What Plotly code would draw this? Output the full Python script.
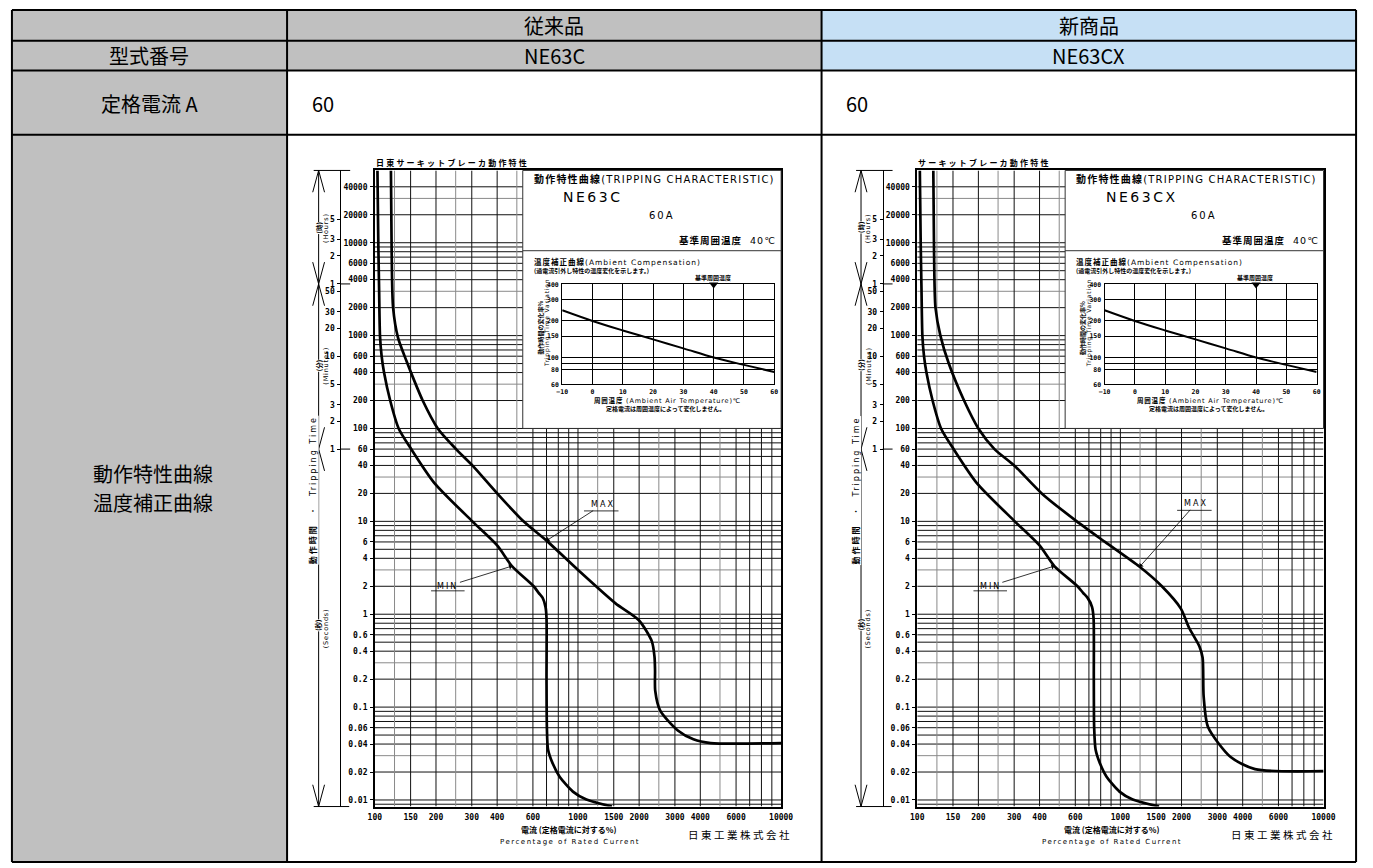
import math
import plotly.graph_objects as go

W, H = 1373, 868

# ---------------- data ----------------
# Tripping characteristic: % of rated current vs. tripping time (s)
ne63c_min_pct = [103, 104, 105, 106, 108, 111, 119, 131, 151, 196, 302, 400, 473, 605, 640, 670, 692, 700, 700, 703, 712, 752, 812, 944, 1100, 1470]
ne63c_min_sec = [60000, 10000, 3000, 1000, 600, 400, 200, 100, 60, 26, 10, 5.5, 3.3, 2.0, 1.7, 1.5, 1.2, 0.9, 0.2, 0.06, 0.035, 0.0245, 0.0178, 0.0123, 0.0101, 0.0085]
ne63c_max_pct = [120, 121, 123, 130, 143, 154, 172, 204, 251, 302, 400, 539, 700, 1000, 1530, 1990, 2310, 2380, 2395, 2400, 2540, 3100, 3700, 4500, 10000]
ne63c_max_sec = [60000, 8000, 2000, 950, 535, 355, 200, 100, 60, 40, 20, 10, 6.2, 3.0, 1.31, 0.866, 0.51, 0.35, 0.25, 0.15, 0.0915, 0.056, 0.045, 0.041, 0.041]

ne63cx_min_pct = [103, 104, 105, 106, 108, 111, 119, 131, 151, 196, 302, 400, 473, 615, 655, 690, 725, 738, 740, 743, 755, 795, 855, 990, 1150, 1550]
ne63cx_min_sec = [60000, 10000, 3000, 1000, 600, 400, 200, 100, 60, 26, 10, 5.5, 3.3, 2.0, 1.7, 1.5, 1.2, 0.9, 0.2, 0.06, 0.035, 0.0245, 0.0178, 0.0123, 0.0101, 0.0085]
ne63cx_max_pct = [120, 121, 123, 130, 143, 170, 200, 240, 300, 410, 610, 840, 1244, 1600, 1985, 2175, 2450, 2540, 2570, 2700, 3490, 4600, 10000]
ne63cx_max_sec = [60000, 8000, 2000, 1000, 500, 200, 100, 60, 40, 20, 10, 6, 3.24, 2.0, 1.15, 0.72, 0.45, 0.34, 0.13, 0.061, 0.029, 0.0215, 0.0205]

# Ambient compensation: tripping-time variation (%) vs. ambient temperature (°C)
amb_temp = [-10, 0, 10, 20, 30, 40, 50, 60]
amb_ratio = [245, 200, 167, 141, 119, 100, 87, 76]
ref_temp = 40

# Axis ticks and rulings
cur_ticks = [100, 150, 200, 300, 400, 600, 1000, 1500, 2000, 3000, 4000, 6000, 10000]
cur_grid_dark = [700, 800, 900, 7000, 8000, 9000]
cur_grid_light = [125, 250, 500, 1250, 2500, 5000]
sec_ticks = [0.01, 0.02, 0.04, 0.06, 0.1, 0.2, 0.4, 0.6, 1, 2, 4, 6, 10, 20, 40, 60,
             100, 200, 400, 600, 1000, 2000, 4000, 6000, 10000, 20000, 40000]
sec_labels = ["0.01", "0.02", "0.04", "0.06", "0.1", "0.2", "0.4", "0.6", "1", "2", "4", "6",
              "10", "20", "40", "60", "100", "200", "400", "600", "1000", "2000", "4000",
              "6000", "10000", "20000", "40000"]
sec_grid_dark = [m * 10 ** e for e in range(-3, 5) for m in (5, 7, 8, 9)
                 if 0.0085 < m * 10 ** e < 50000]
sec_grid_light = [3 * 10 ** e for e in range(-2, 5)]
hm_ticks = [18000, 10800, 7200, 3600, 3000, 1800, 1200, 600, 300, 180, 120, 60]
hm_labels = ["5", "3", "2", "1", "50", "30", "20", "10", "5", "3", "2", "1"]
temp_ticks = [-10, 0, 10, 20, 30, 40, 50, 60]
ratio_ticks = [60, 80, 100, 150, 200, 300, 400]
ratio_grid = [90]

L = math.log10
T_MIN, T_MAX = 0.0085, 60000
YMIN, YMAX = L(T_MIN), L(T_MAX)
RMIN, RMAX = L(60), L(400)

JP = "Noto Sans CJK JP"
TABLE_FONT = "Liberation Sans Narrow, Noto Sans CJK JP"
MONO = "DejaVu Sans Mono"
SANS = "DejaVu Sans, Noto Sans CJK JP"
GRAY_CELL = "#c0c0c0"
BLUE_CELL = "#c6e0f5"
DARK, LIGHT = "#111111", "#8a8a8a"


def fx(x):
    return x / W


def fy(y):
    return 1 - y / H


def sp(s, ls):
    return f'<span style="letter-spacing:{ls}px">{s}</span>'


fig = go.Figure()
shapes, annotations = [], []
layout = {}


def text(x, y, s, size=8, family=SANS, anchor="center", angle=0, bg=None):
    annotations.append(dict(x=fx(x), y=fy(y), xref="paper", yref="paper", text=s,
                            showarrow=False, xanchor=anchor, yanchor="middle",
                            textangle=angle, bgcolor=bg, borderpad=0,
                            font=dict(family=family, size=size, color="black")))


def pline(x0, y0, x1, y1, w=1, color="black", layer="above"):
    shapes.append(dict(type="line", xref="paper", yref="paper", x0=fx(x0), y0=fy(y0),
                       x1=fx(x1), y1=fy(y1), line=dict(color=color, width=w), layer=layer))


# ---------------- table ----------------
cols = [5, 284, 826, 1368]
rows = [6, 37, 67, 132, 866]
fills = [[GRAY_CELL, GRAY_CELL, BLUE_CELL],
         [GRAY_CELL, GRAY_CELL, BLUE_CELL],
         [GRAY_CELL, "white", "white"],
         [GRAY_CELL, "white", "white"]]
for r in range(4):
    for c in range(3):
        shapes.append(dict(type="rect", xref="paper", yref="paper", layer="below",
                           x0=fx(cols[c]), x1=fx(cols[c + 1]), y0=fy(rows[r + 1]), y1=fy(rows[r]),
                           fillcolor=fills[r][c], line=dict(width=0)))
for yy in rows:
    pline(cols[0], yy, cols[-1], yy, 2)
for xx in cols:
    pline(xx, rows[0], xx, rows[-1], 2)

text(555, 22, "従来品", 20, TABLE_FONT)
text(1097, 22, "新商品", 20, TABLE_FONT)
text(144, 52, "型式番号", 20, TABLE_FONT)
text(555, 52, "NE63C", 20, TABLE_FONT)
text(1097, 52, "NE63CX", 20, TABLE_FONT)
text(144, 100, "定格電流 A", 20, TABLE_FONT)
text(308, 100, "60", 20, TABLE_FONT, anchor="left")
text(850, 100, "60", 20, TABLE_FONT, anchor="left")
text(148, 474, "動作特性曲線", 20, TABLE_FONT)
text(148, 503, "温度補正曲線", 20, TABLE_FONT)


# ---------------- charts ----------------
def chart(a, dx, title, model, min_pct, min_sec, max_pct, max_sec, max_tip, min_tip, max_off):
    xm, ym, yhm, xi, yi = a, a, a + 1, a + 2, a + 2
    k = lambda p, i: p + ("" if i == 1 else str(i))
    X0, X1, Y0, Y1 = 373 + dx, 785 + dx, 168, 810
    PANEL_X = 523 + dx

    def xpix(v):
        return X0 + (L(v) - 2) / 2 * (X1 - X0)

    def ypix(t):
        return Y0 + (YMAX - L(t)) / (YMAX - YMIN) * (Y1 - Y0)

    xr, yr = k("x", xm), k("y", ym)
    tickfont = dict(family=MONO, size=8, color="black", weight="bold")
    layout[k("xaxis", xm)] = dict(
        type="log", range=[2, 4], domain=[fx(X0), fx(X1)], anchor=yr,
        tickvals=cur_ticks, ticktext=[str(v) for v in cur_ticks], ticks="", showgrid=False,
        showline=True, mirror=True, linecolor="black", linewidth=1.5,
        tickfont=tickfont, ticklabelstandoff=2, zeroline=False, fixedrange=True)
    layout[k("yaxis", ym)] = dict(
        type="log", range=[YMIN, YMAX], domain=[fy(Y1), fy(Y0)], anchor=xr,
        tickvals=sec_ticks, ticktext=sec_labels, ticks="outside", ticklen=3, tickcolor="black",
        showgrid=False, showline=True, mirror=True, linecolor="black", linewidth=1.5,
        tickfont=tickfont, ticklabelstandoff=1, zeroline=False, fixedrange=True)
    layout[k("yaxis", yhm)] = dict(
        type="log", range=[YMIN, YMAX], overlaying=yr, anchor="free",
        position=fx(338 + dx), side="left",
        tickvals=hm_ticks, ticktext=hm_labels, ticks="outside", ticklen=3, tickcolor="black",
        showgrid=False, showline=True, linecolor="black", linewidth=1,
        tickfont=tickfont, ticklabelstandoff=1, zeroline=False, fixedrange=True)

    # chart rulings (shape positions on log axes are plain data values);
    # the upper-right panel is kept clear of them
    v_panel = 10 ** (2 + (PANEL_X - X0) / (X1 - X0) * 2)
    for vals, col in ((sec_ticks + sec_grid_dark, DARK), (sec_grid_light, LIGHT)):
        for t in vals:
            x_end = v_panel if t > 100 else cur_ticks[-1]
            shapes.append(dict(type="line", xref=xr, yref=yr, x0=cur_ticks[0], x1=x_end,
                               y0=t, y1=t, line=dict(color=col, width=1), layer="below"))
    for vals, col in ((cur_ticks[1:-1] + cur_grid_dark, DARK), (cur_grid_light, LIGHT)):
        for v in vals:
            y_end = 100 if v > v_panel else T_MAX
            shapes.append(dict(type="line", xref=xr, yref=yr, x0=v, x1=v, y0=T_MIN, y1=y_end,
                               line=dict(color=col, width=1), layer="below"))
    # panel outline and divider
    shapes.append(dict(type="rect", xref="paper", yref="paper", x0=fx(PANEL_X), x1=fx(X1),
                       y0=fy(ypix(100)), y1=fy(Y0), line=dict(color="#333", width=1),
                       fillcolor="rgba(0,0,0,0)", layer="above"))
    pline(PANEL_X, 249, X1, 249, 1, "#333")

    # inset: ambient compensation
    small = dict(family=MONO, size=6.5, color="black", weight="bold")
    layout[k("xaxis", xi)] = dict(
        range=[-10, 60], domain=[fx(563 + dx), fx(778 + dx)], anchor=k("y", yi),
        tickvals=temp_ticks, ticks="", showgrid=True, gridcolor="black", gridwidth=1,
        showline=True, mirror=True, linecolor="black", linewidth=1.2,
        tickfont=small, ticklabelstandoff=1, zeroline=False, fixedrange=True)
    layout[k("yaxis", yi)] = dict(
        type="log", range=[RMIN, RMAX], domain=[fy(384), fy(283)], anchor=k("x", xi),
        tickvals=ratio_ticks + ratio_grid,
        ticktext=[str(v) for v in ratio_ticks] + [""] * len(ratio_grid),
        ticks="", showgrid=True, gridcolor="black", gridwidth=1,
        showline=True, mirror=True, linecolor="black", linewidth=1.2,
        tickfont=small, ticklabelstandoff=1, zeroline=False, fixedrange=True)

    curve = dict(mode="lines", line=dict(color="black", width=2.7, shape="spline", smoothing=0.7),
                 hoverinfo="skip", showlegend=False)
    fig.add_trace(go.Scatter(x=min_pct, y=min_sec, xaxis=xr, yaxis=yr, **curve))
    fig.add_trace(go.Scatter(x=max_pct, y=max_sec, xaxis=xr, yaxis=yr, **curve))
    # carrier for the hours / minutes scale
    fig.add_trace(go.Scatter(x=[cur_ticks[0]] * len(hm_ticks), y=hm_ticks, xaxis=xr,
                             yaxis=k("y", yhm), mode="markers", marker=dict(opacity=0),
                             hoverinfo="skip", showlegend=False))
    fig.add_trace(go.Scatter(x=amb_temp, y=amb_ratio, xaxis=k("x", xi), yaxis=k("y", yi),
                             mode="lines", line=dict(color="black", width=2, shape="spline"),
                             hoverinfo="skip", showlegend=False))
    fig.add_trace(go.Scatter(x=[ref_temp], y=[ratio_ticks[-1]], xaxis=k("x", xi), yaxis=k("y", yi),
                             mode="markers", marker=dict(symbol="triangle-down", size=8, color="black"),
                             cliponaxis=False, hoverinfo="skip", showlegend=False))

    # time-span dimension lines at the left
    ax_x = 316 + dx
    pline(ax_x, Y0, ax_x, Y1, 1)
    pline(311 + dx, Y0, 348 + dx, Y0, 1)
    pline(311 + dx, Y1, 347 + dx, Y1, 1)
    for sx in (-6, 6):
        pline(ax_x, Y0, ax_x + sx, Y0 + 22, 1)
        pline(ax_x, Y1, ax_x + sx, Y1 - 22, 1)
    for t in (hm_ticks[3], hm_ticks[-1]):
        yb = ypix(t)
        for sx in (-6, 6):
            pline(ax_x, yb, ax_x + sx, yb - 22, 1)
            pline(ax_x, yb, ax_x + sx, yb + 22, 1)
        pline(338 + dx, yb, 348 + dx, yb, 1)

    text(ax_x, 226, "<b>(時)</b>", 6.5, JP, angle=-90, bg="white")
    text(323.5 + dx, 226, sp("(Hours)", 0.8), 6.5, SANS, angle=-90)
    text(ax_x, 365, "<b>(分)</b>", 6.5, JP, angle=-90, bg="white")
    text(323.5 + dx, 365, sp("(Minutes)", 0.8), 6.5, SANS, angle=-90)
    text(ax_x, 627, "<b>(秒)</b>", 6.5, JP, angle=-90, bg="white")
    text(323.5 + dx, 630, sp("(Seconds)", 0.8), 6.5, SANS, angle=-90)
    text(311 + dx, 491, sp("<b>動作時間</b>  ・  Tripping Time", 2), 8, SANS, angle=-90, bg="white")

    # headings
    text(X0, 160, sp(f"<b>{title}</b>", 2.2), 8, JP, anchor="left")
    text(533 + dx, 177, sp("<b>動作特性曲線</b>(TRIPPING CHARACTERISTIC)", 1.2), 10, SANS, anchor="left")
    text(563 + dx, 195, sp(model, 2.5), 14, SANS, anchor="left")
    text(650 + dx, 213, sp("60A", 2), 10, SANS, anchor="left")
    text(781 + dx, 239, sp("<b>基準周囲温度</b>  40℃", 1), 9.5, SANS, anchor="right")

    text(533 + dx, 260, sp("<b>温度補正曲線</b>(Ambient Compensation)", 1), 7.5, SANS, anchor="left")
    text(533 + dx, 269, "<b>(過電流引外し特性の温度変化を示します。)</b>", 6, JP, anchor="left")
    text(716 + dx, 276, "<b>基準周囲温度</b>", 6, JP)
    text(541 + dx, 327, "<b>動作時間の変化率%</b>", 6, JP, angle=-90)
    text(547.5 + dx, 322, sp("Tripping Time Variation", 0.8), 6, SANS, angle=-90)
    text(670 + dx, 400, sp("<b>周囲温度</b> (Ambient Air Temperature)℃", 0.8), 6.5, SANS)
    text(668 + dx, 408, "<b>定格電流は周囲温度によって変化しません。</b>", 6, JP)

    text(570 + dx, 833, "<b>電流 (定格電流に対する%)</b>", 8, JP)
    text(571 + dx, 846, sp("Percentage of Rated Current", 1.5), 7, SANS)
    text(690 + dx, 838, sp("日東工業株式会社", 2.5), 10.5, JP, anchor="left")

    # MAX / MIN callouts: label offset (px) and underline span relative to the tip
    for (pct, sec), label, (ax, ay), (ux0, ux1, uy) in (
            (max_tip, "MAX", max_off[0], max_off[1]),
            (min_tip, "MIN", (-64, 20), (-82, -48, 25))):
        annotations.append(dict(x=L(pct), y=L(sec), xref=xr, yref=yr,
                                text=sp(label, 2), showarrow=True, ax=ax, ay=ay,
                                arrowhead=1, arrowsize=1.2, arrowwidth=0.8, arrowcolor="black",
                                font=dict(family=SANS, size=8, color="black")))
        tx, ty = xpix(pct), ypix(sec)
        pline(tx + ux0, ty + uy, tx + ux1, ty + uy, 0.8)


chart(1, 0, "日東サーキットブレーカ動作特性", "NE63C",
      ne63c_min_pct, ne63c_min_sec, ne63c_max_pct, ne63c_max_sec,
      (ne63c_max_pct[12], ne63c_max_sec[12]), (ne63c_min_pct[12], ne63c_min_sec[12]),
      ((56, -36), (38, 73, -30)))
chart(4, 550, "サーキットブレーカ動作特性", "NE63CX",
      ne63cx_min_pct, ne63cx_min_sec, ne63cx_max_pct, ne63cx_max_sec,
      (ne63cx_max_pct[12], ne63cx_max_sec[12]), (ne63cx_min_pct[12], ne63cx_min_sec[12]),
      ((56, -63), (38, 73, -57)))

fig.update_layout(width=W, height=H, margin=dict(l=0, r=0, t=0, b=0),
                  paper_bgcolor="white", plot_bgcolor="rgba(0,0,0,0)",
                  shapes=shapes, annotations=annotations, showlegend=False, **layout)
fig.write_html("out.html", config={"displayModeBar": False})
